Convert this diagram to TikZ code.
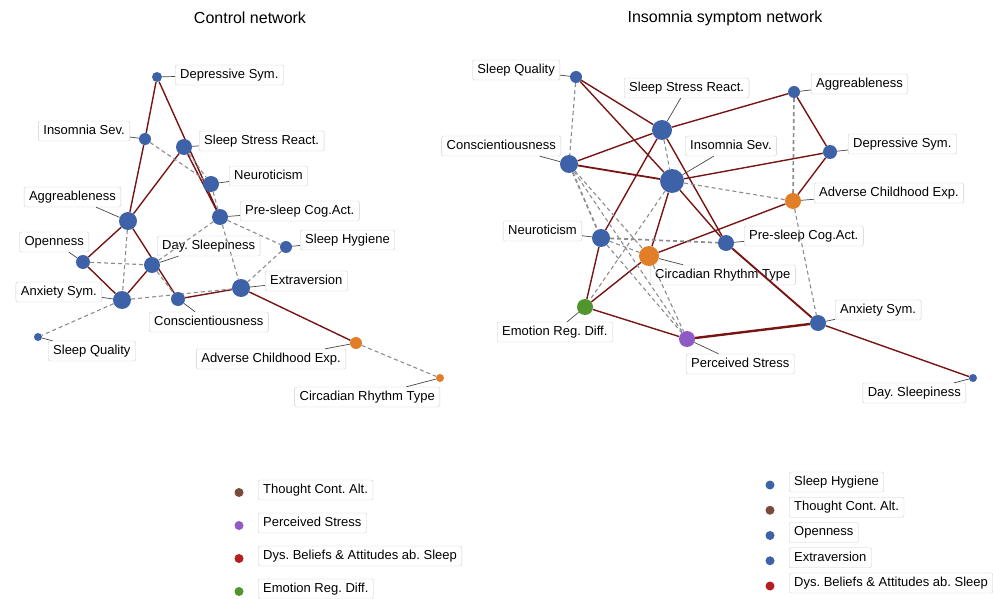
\documentclass[tikz,border=0pt]{standalone}
\usepackage{fontspec}
\setmainfont{Liberation Sans}
\frenchspacing
\definecolor{nblue}{RGB}{62,98,168}
\definecolor{norange}{RGB}{226,125,40}
\definecolor{ngreen}{RGB}{80,150,45}
\definecolor{npurple}{RGB}{142,90,196}
\definecolor{lbrown}{RGB}{120,75,60}
\definecolor{lred}{RGB}{180,30,30}
\definecolor{edgered}{RGB}{120,20,20}
\definecolor{edgegray}{RGB}{140,140,140}
\definecolor{boxgray}{RGB}{205,205,205}
\definecolor{leadgray}{RGB}{70,70,70}
\pgfdeclarelayer{lab}
\pgfdeclarelayer{edg}
\pgfsetlayers{lab,edg,main}
\tikzset{
  nd/.style={circle, inner sep=0pt, fill=nblue, minimum size=#1},
  lbl/.style={draw=boxgray, fill=white, rounded corners=2pt, inner xsep=5pt,
    inner ysep=0pt, minimum height=20pt, text height=9.5pt, text depth=2.7pt,
    font=\fontsize{13}{15}\selectfont},
  ld/.style={leadgray, line width=0.7pt},
  posedge/.style={edgered, line width=1.4pt},
  negedge/.style={edgegray, line width=1.1pt, dash pattern=on 4pt off 3pt},
  negwide/.style={negedge, line width=1.7pt}
}
\begin{document}
\begin{tikzpicture}[x=1pt,y=-1pt]
\useasboundingbox (0,0) rectangle (993,599);
% titles
%-----------------------------------------------------------%
\node[font=\fontsize{16}{19}\selectfont] (tCtrl) at (250,18) {Control network};
\node[font=\fontsize{16}{19}\selectfont] (tIns) at (725,18) {Insomnia symptom network};
% control network nodes
\foreach \n/\x/\y/\s/\c in {DS/157/77/10/nblue, IS/145/139/12/nblue,
    SSR/184/147/16/nblue, NEU/211/184/16/nblue, AGR/128/221/18/nblue,
    PSC/220/217/16/nblue, SH/286/247/12/nblue, OPN/83/262/14/nblue,
    DAY/152/265/16/nblue, EXT/241/288/18/nblue, ANX/122/300/18/nblue,
    CON/178/299/14/nblue, SQ/38/337/8/nblue, ACE/356/343/12/norange,
    CRT/440/378/8/norange}
  {\node[nd=\s, fill=\c] (\n) at (\x,\y) {};}
% insomnia network nodes
\foreach \n/\x/\y/\s/\c in {SQr/576/77/12/nblue, SSRr/662/130/20/nblue,
    AGRr/794/92/12/nblue, CONr/569/164/18/nblue, ISr/672/181/24/nblue,
    DSr/830/152/14/nblue, ACEr/793/201/16/norange, NEUr/601/238/18/nblue,
    PSCr/726/243/16/nblue, CRTr/649/256/20/norange, ERD/585/307/16/ngreen,
    PS/687/339/16/npurple, ANXr/818/323/16/nblue, DAYr/973/378/8/nblue}
  {\node[nd=\s, fill=\c] (\n) at (\x,\y) {};}
% label boxes
\begin{pgfonlayer}{lab}
\foreach \n/\a/\x/\y/\t in {DS/west/175/75/Depressive Sym.,
    IS/east/130/131/Insomnia Sev., SSR/west/199/141/Sleep Stress React.,
    NEU/west/229/176/Neuroticism, AGR/east/121/197/Aggreableness,
    PSC/west/240/211/Pre-sleep Cog.Act., SH/west/300/240/Sleep Hygiene,
    OPN/east/89/242/Openness, DAY/west/157/246/Day. Sleepiness,
    EXT/west/265/281/Extraversion, ANX/east/102/292/Anxiety Sym.,
    CON/west/149/322/Conscientiousness, SQ/west/48/351/Sleep Quality,
    ACE/east/346/359/Adverse Childhood Exp., CRT/east/440/397/Circadian Rhythm Type,
    SQr/east/560/70/Sleep Quality, SSRr/west/624/88/Sleep Stress React.,
    AGRr/west/811/84/Aggreableness, CONr/east/561/146/Conscientiousness,
    ISr/west/685/146/Insomnia Sev., DSr/west/848/144/Depressive Sym.,
    ACEr/west/814/193/Adverse Childhood Exp., NEUr/east/582/231/Neuroticism,
    PSCr/west/744/236/Pre-sleep Cog.Act., CRTr/west/650/275/Circadian Rhythm Type,
    ANXr/west/835/310/Anxiety Sym., ERD/west/497/332/Emotion Reg. Diff.,
    PS/west/686/364/Perceived Stress, DAYr/east/966/393/Day. Sleepiness}
  {\node[lbl, anchor=\a] (l\n) at (\x,\y) {\t};}
\end{pgfonlayer}
% edges
\begin{pgfonlayer}{edg}
% leader lines
\foreach \n in {DS,IS,SSR,NEU,AGR,PSC,SH,OPN,DAY,EXT,ANX,CON,SQ,ACE,CRT,
    SQr,SSRr,AGRr,CONr,ISr,DSr,ACEr,NEUr,PSCr,CRTr,ANXr,ERD,PS,DAYr}
  {\draw[ld] (\n) -- (l\n);}
% positive edges
\foreach \a/\b in {DS/IS, IS/AGR, DS/PSC, SSR/PSC, SSR/AGR, AGR/OPN, AGR/CON,
    OPN/ANX, ANX/DAY, CON/EXT, EXT/ACE,
    SQr/SSRr, SQr/ISr, SSRr/AGRr, SSRr/CONr, SSRr/NEUr, SSRr/PSCr, ISr/DSr,
    ISr/CRTr, ISr/PSCr, AGRr/DSr, DSr/ACEr, ACEr/CRTr, NEUr/ERD, CRTr/ERD,
    ERD/PS, ANXr/DAYr}
  {\draw[posedge] (\a) -- (\b);}
\draw[posedge, line width=1.8pt] (CONr) -- (ISr);
\draw[posedge, line width=1.9pt] (PSCr) -- (ANXr);
\draw[posedge, line width=2.4pt] (PS) -- (ANXr);
% negative edges
\foreach \a/\b in {IS/NEU, SSR/NEU, NEU/PSC, AGR/ANX, OPN/DAY, DAY/CON,
    ANX/EXT, ANX/SQ, PSC/DAY, PSC/SH, PSC/EXT, SH/EXT, ACE/CRT,
    SQr/CONr, SSRr/ISr, ISr/ACEr, ACEr/ANXr, CONr/CRTr, CONr/PS,
    NEUr/CRTr, NEUr/PS, ISr/ERD, CRTr/PS}
  {\draw[negedge] (\a) -- (\b);}
\foreach \a/\b in {AGRr/ACEr, CONr/NEUr, NEUr/PSCr}
  {\draw[negwide] (\a) -- (\b);}
\end{pgfonlayer}
% legends
%-----------------------------------------------------------%
\foreach \c/\t [count=\i, evaluate=\i as \yy using 490+33*(\i-1)] in
    {lbrown/Thought Cont. Alt., npurple/Perceived Stress,
     lred/{Dys. Beliefs \& Attitudes ab. Sleep}, ngreen/Emotion Reg. Diff.}
  {\node[nd=9, fill=\c] (dL\i) at (239,{\yy+2.5}) {};
   \node[lbl, anchor=west] (gL\i) at (258,\yy) {\t};}
\foreach \c/\t [count=\i, evaluate=\i as \yy using 482+25.25*(\i-1)] in
    {nblue/Sleep Hygiene, lbrown/Thought Cont. Alt., nblue/Openness,
     nblue/Extraversion, lred/{Dys. Beliefs \& Attitudes ab. Sleep}}
  {\node[nd=9, fill=\c] (dR\i) at (770,{\yy+3}) {};
   \node[lbl, anchor=west] (gR\i) at (789,\yy) {\t};}
\end{tikzpicture}
\end{document}
